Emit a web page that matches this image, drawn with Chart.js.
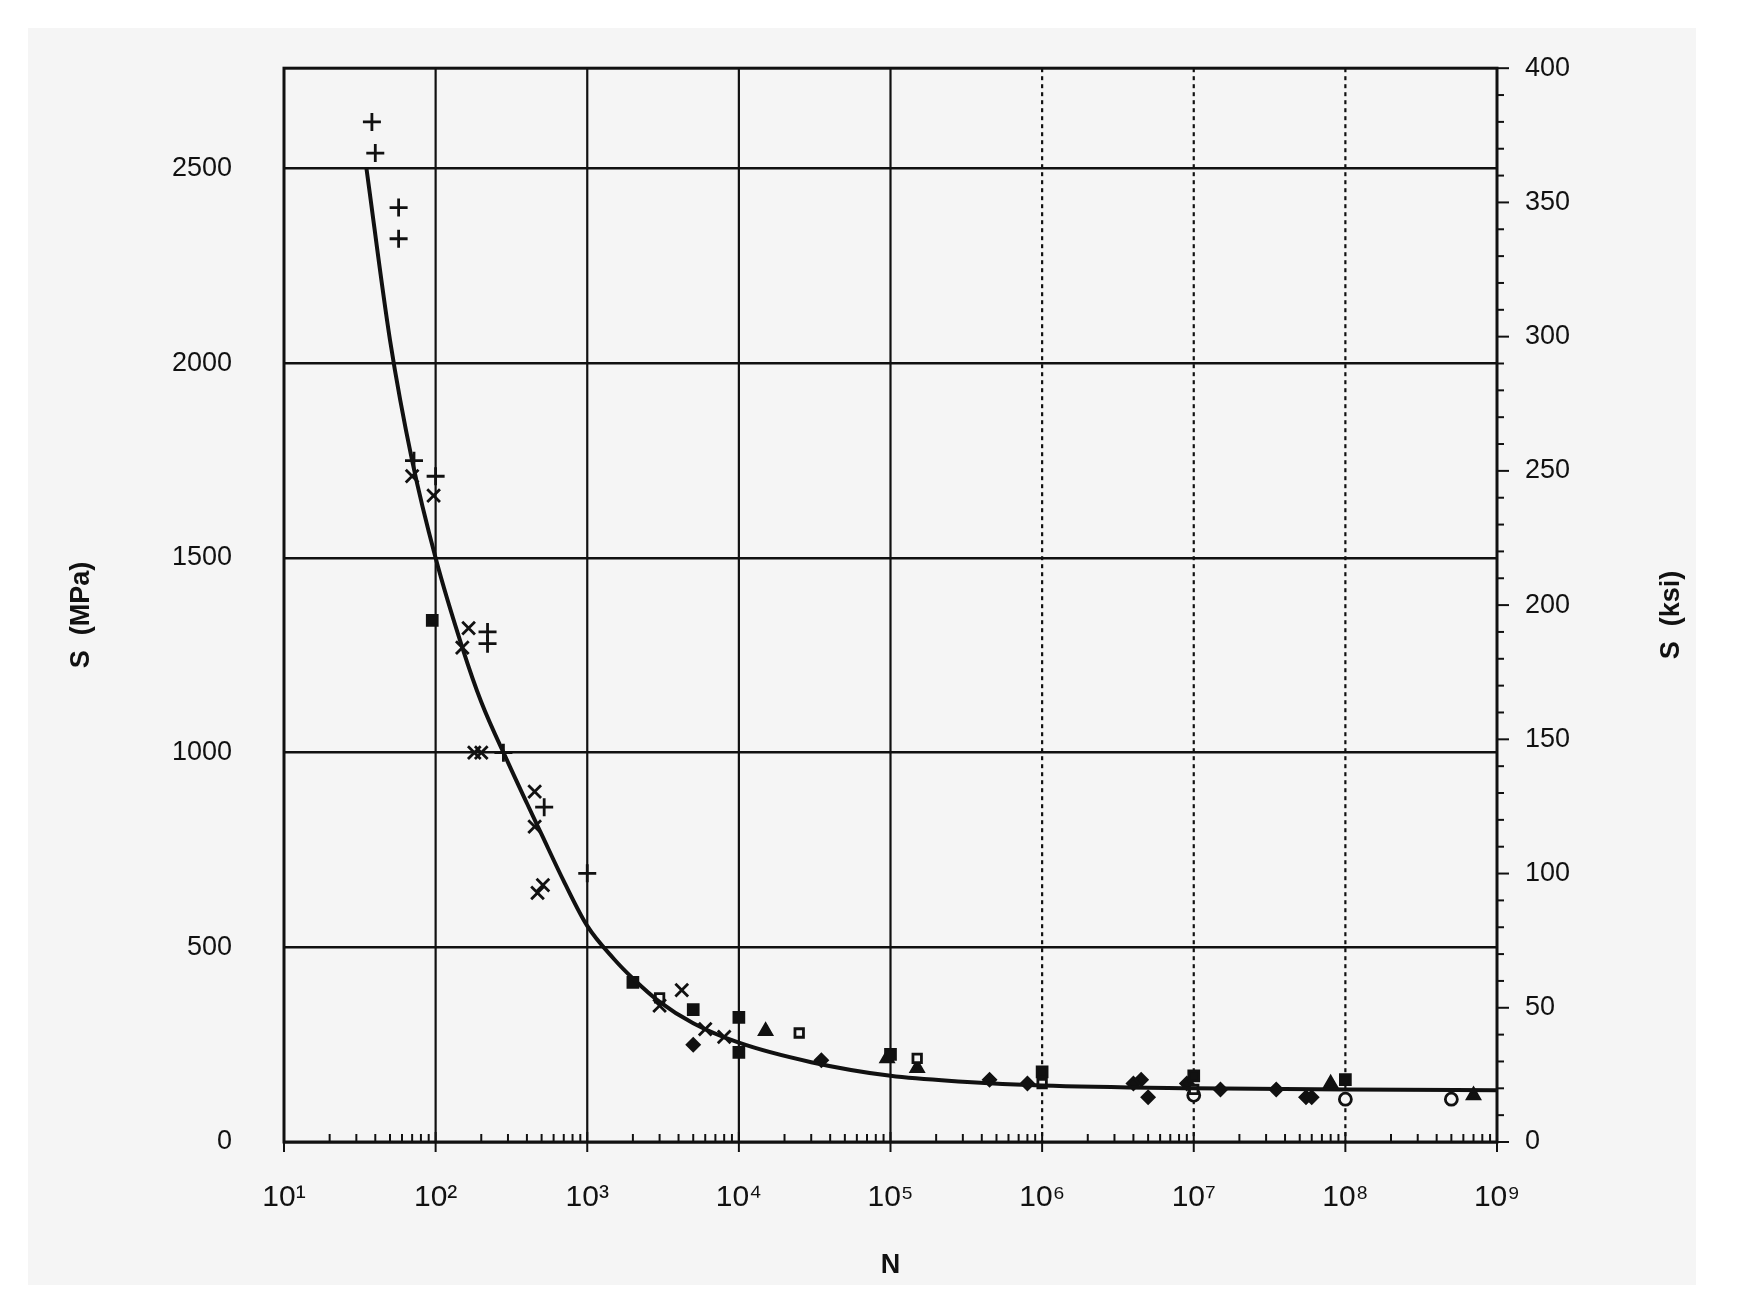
<!DOCTYPE html>
<html><head><meta charset="utf-8">
<script src="https://cdn.jsdelivr.net/npm/chart.js@4/dist/chart.umd.min.js"></script>
<style>html,body{margin:0;padding:0;background:#fff}canvas{display:block}</style>
</head><body>
<div style="width:1739px;height:1314px"><canvas id="c"></canvas></div>
<script>
// S-N fatigue data (N cycles, S in MPa)
const curveN = [35,50,70,100,150,200,300,400,500,700,1000,1500,2000,3000,5000,10000,30000,100000,300000,1e6,1e7,1e8,1e9];
const curveS = [2500,2060,1750,1500,1270,1130,975,870,790,670,555,470,420,360,305,255,205,170,155,145,138,135,133];
const plusN = [38,40,57,57,100,72,220,220,280,520,1000];
const plusS = [2620,2540,2400,2320,1710,1750,1310,1280,1000,860,690];
const crossN = [70,97,150,165,180,200,450,450,470,510,3000,4200,6000,8000];
const crossS = [1710,1660,1270,1320,1000,1000,900,810,640,660,350,390,290,270];
const sqN = [95,2000,5000,10000,10000,100000,1e6,1e7,1e8];
const sqS = [1340,410,340,320,230,225,180,170,160];
const osqN = [3000,25000,150000,1e6,1e7];
const osqS = [370,280,215,150,135];
const triN = [15000,95000,150000,8e7,7e8];
const triS = [285,215,190,150,120];
const dotN = [5000,35000,450000,800000,4e6,4.5e6,5e6,9e6,1.5e7,3.5e7,5.5e7,6e7];
const dotS = [250,210,160,150,150,160,115,150,135,135,115,115];
const ocN = [1e7,1e8,5e8];
const ocS = [120,110,110];
const xTicks = [1e1,1e2,1e3,1e4,1e5,1e6,1e7,1e8,1e9];
const xLabels = ['10¹','10²','10³','10⁴','10⁵','10⁶','10⁷','10⁸','10⁹'];
const mpaTicks = [0,500,1000,1500,2000,2500];
const ksiTicks = [0,50,100,150,200,250,300,350,400];

const pts = (n,s)=>n.map((v,i)=>({x:v,y:s[i]}));
const F = "'Liberation Sans', Arial, sans-serif";
function mk(data, style, fill, r){
  return {type:'scatter',data, pointStyle:style, pointRadius:r||7, borderColor:'#111',
    backgroundColor: fill?'#111':'#f5f5f5', pointBorderWidth:2.8, showLine:false, yAxisID:'y'};
}
const deco = {
  id:'deco',
  beforeDraw(c){
    const g=c.ctx; g.save();
    g.fillStyle='#fff'; g.fillRect(0,0,c.width,c.height);
    g.fillStyle='#f5f5f5'; g.fillRect(28,28,1668,1257);
    g.restore();
  },
  beforeDatasetsDraw(c){
    const g=c.ctx,a=c.chartArea,x=c.scales.x,y1=c.scales.y1; g.save();
    g.strokeStyle='#111';
    xTicks.slice(1,8).forEach(v=>{
      const px=x.getPixelForValue(v);
      g.lineWidth=2.2; g.setLineDash(v>=1e6?[4,4]:[]);
      g.beginPath(); g.moveTo(px,a.top); g.lineTo(px,a.bottom); g.stroke();
    });
    g.setLineDash([]);
    g.lineWidth=3; g.strokeRect(a.left,a.top,a.right-a.left,a.bottom-a.top);
    g.lineWidth=2;
    for(let d=1;d<9;d++)for(let k=2;k<10;k++){
      const px=x.getPixelForValue(k*Math.pow(10,d));
      g.beginPath(); g.moveTo(px,a.bottom); g.lineTo(px,a.bottom-8); g.stroke();
    }
    xTicks.forEach(v=>{const px=x.getPixelForValue(v);
      g.beginPath(); g.moveTo(px,a.bottom+10); g.lineTo(px,a.bottom-10); g.stroke();});
    for(let k=0;k<=400;k+=10){
      const py=y1.getPixelForValue(k);
      g.beginPath();
      if(k%50===0){g.moveTo(a.right,py);g.lineTo(a.right+12,py);}
      else {g.moveTo(a.right,py);g.lineTo(a.right+7,py);}
      g.stroke();
    }
    g.fillStyle='#111'; g.font='bold 27px '+F; g.textAlign='center'; g.textBaseline='middle';
    g.fillText('N',(a.left+a.right)/2,1266);
    g.save(); g.translate(82,(a.top+a.bottom)/2+10); g.rotate(-Math.PI/2); g.fillText('S  (MPa)',0,0); g.restore();
    g.save(); g.translate(1672,(a.top+a.bottom)/2+10); g.rotate(-Math.PI/2); g.fillText('S  (ksi)',0,0); g.restore();
    g.restore();
  }
};
new Chart(document.getElementById('c'),{
  data:{datasets:[
    {type:'line',data:pts(curveN,curveS),borderColor:'#111',borderWidth:4,pointRadius:0,
     cubicInterpolationMode:'monotone',fill:false,yAxisID:'y'},
    mk(pts(plusN,plusS),'cross',true,9),
    mk(pts(crossN,crossS),'crossRot',true,9),
    mk(pts(sqN,sqS),'rect',true,7),
    mk(pts(osqN,osqS),'rect',false,6),
    mk(pts(triN,triS),'triangle',true,7),
    mk(pts(dotN,dotS),'rectRot',true,6),
    mk(pts(ocN,ocS),'circle',false,6)
  ]},
  options:{responsive:true,maintainAspectRatio:false,animation:false,
    layout:{padding:{top:50,left:0,right:0,bottom:0}},
    plugins:{legend:{display:false},tooltip:{enabled:false}},
    scales:{
      x:{type:'logarithmic',min:10,max:1e9,
        afterBuildTicks(s){s.ticks=xTicks.map(v=>({value:v}));},
        afterFit(s){s.height=172;},
        grid:{display:false},border:{display:false},
        ticks:{padding:30,color:'#111',font:{family:F,size:30},maxRotation:0,autoSkip:false,
          callback:(v)=>{const i=xTicks.indexOf(v);return i>=0?xLabels[i]:'';}}},
      y:{type:'linear',position:'left',min:0,max:2758,
        afterBuildTicks(s){s.ticks=mpaTicks.map(v=>({value:v}));},
        afterFit(s){s.width=284;},
        grid:{color:'#111',lineWidth:2.5,drawTicks:false},border:{display:false},
        ticks:{padding:52,color:'#111',font:{family:F,size:27},callback:v=>String(v)}},
      y1:{type:'linear',position:'right',min:0,max:400,
        afterBuildTicks(s){s.ticks=ksiTicks.map(v=>({value:v}));},
        afterFit(s){s.width=242;},
        grid:{display:false,drawTicks:false},border:{display:false},
        ticks:{padding:28,color:'#111',font:{family:F,size:27},callback:v=>String(v)}}
    }},
  plugins:[deco]
});
</script></body></html>
